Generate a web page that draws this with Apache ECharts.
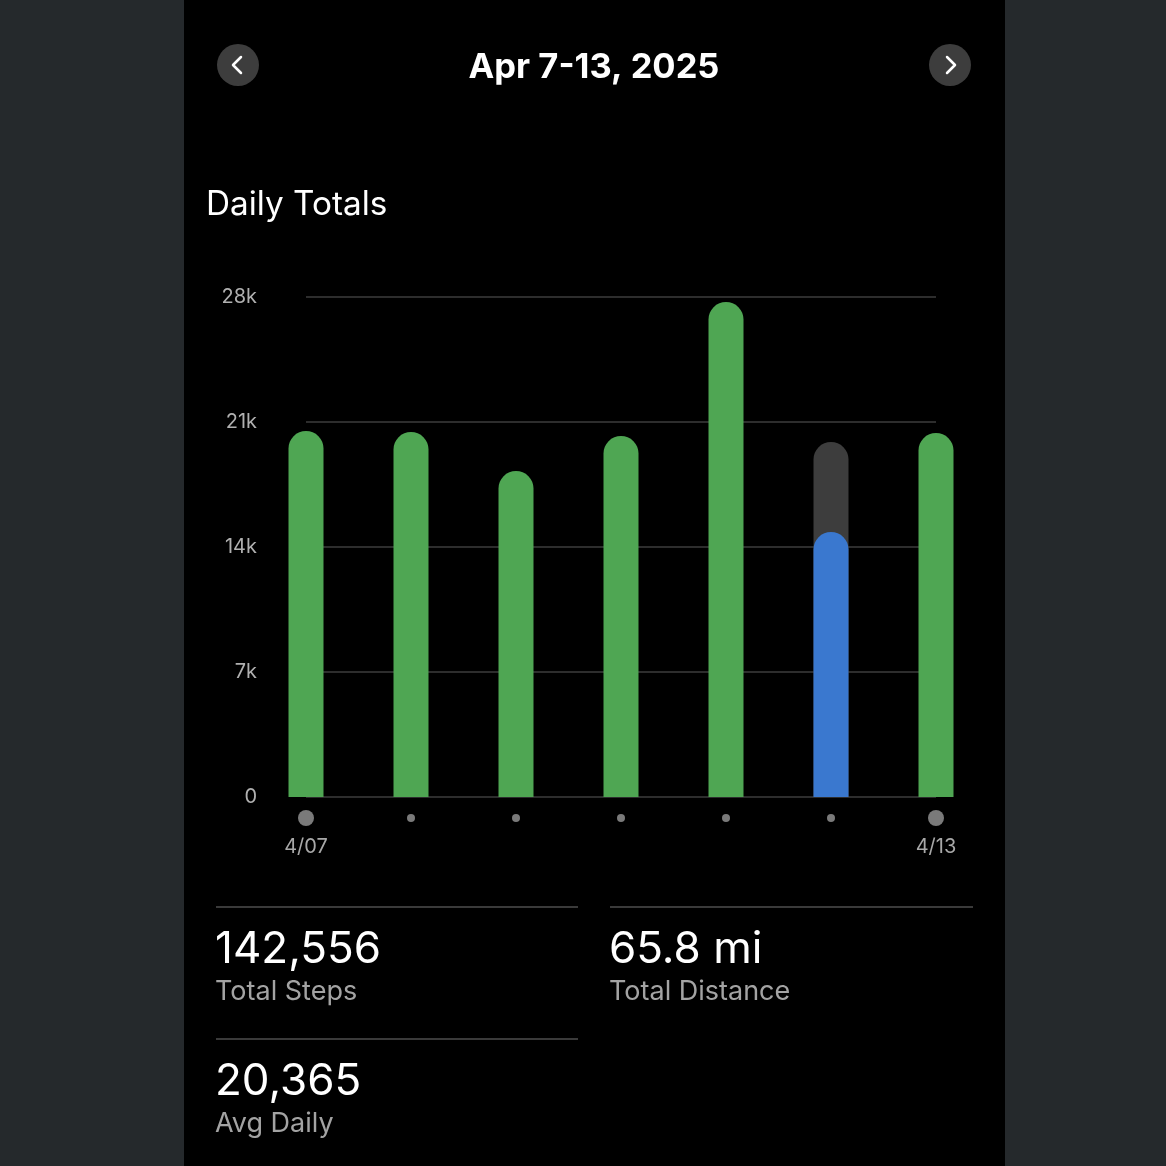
<!DOCTYPE html>
<html>
<head>
<meta charset="utf-8">
<script src="https://cdn.jsdelivr.net/npm/echarts@6/dist/echarts.min.js"></script>
<style>
html,body{margin:0;padding:0;width:1166px;height:1166px;background:#25292c;overflow:hidden;}
#panel{position:absolute;left:184px;top:0;width:821px;height:1166px;background:#000;}
#chart{position:absolute;left:0;top:0;width:1166px;height:1166px;}
</style>
</head>
<body>
<div id="panel"></div>
<div id="chart"></div>
<script>
// ---- data ----
const days = ['4/07', '4/08', '4/09', '4/10', '4/11', '4/12', '4/13'];
const steps = [20496, 20440, 18256, 20216, 27720, 14840, 20384];
const goalBackdrop = [null, null, null, null, null, 19880, null];
const inProgressIndex = 5;
const yTicks = [0, 7000, 14000, 21000, 28000];
const headerTitle = 'Apr 7-13, 2025';
const sectionTitle = 'Daily Totals';
const stats = [
  { value: '142,556', label: 'Total Steps' },
  { value: '65.8 mi', label: 'Total Distance' },
  { value: '20,365', label: 'Avg Daily' }
];

const FONT = 'Inter, "Noto Sans", sans-serif';
const GREEN = '#4fa653';
const BLUE = '#3a78cf';
const GRAY = '#3d3d3d';

const chart = echarts.init(document.getElementById('chart'), null, { renderer: 'canvas' });

function textEl(x, y, text, size, color, weight, align) {
  return {
    type: 'text', x: x, y: y, silent: true,
    style: { text: text, fill: color, font: (weight || 'normal') + ' ' + size + 'px ' + FONT,
      textAlign: align || 'left', textVerticalAlign: 'middle' }
  };
}

function button(cx, cy, dir) {
  const pts = dir < 0 ? [[cx + 3, cy - 8], [cx - 5, cy], [cx + 3, cy + 8]]
                      : [[cx - 3, cy - 8], [cx + 5, cy], [cx - 3, cy + 8]];
  return [
    { type: 'circle', shape: { cx: cx, cy: cy, r: 21 }, style: { fill: '#3d3d3d' }, silent: true },
    { type: 'polyline', shape: { points: pts }, style: { stroke: '#ffffff', lineWidth: 2.5, fill: null, lineCap: 'round', lineJoin: 'round' }, silent: true }
  ];
}

const graphics = [].concat(
  button(238, 65, -1),
  button(950, 65, 1),
  [textEl(594, 68, headerTitle, 34.5, '#ffffff', 'bold', 'center'),
   textEl(206, 205, sectionTitle, 33.3, '#ffffff', 'normal', 'left'),
   { type: 'line', shape: { x1: 216, y1: 907, x2: 578, y2: 907 }, style: { stroke: '#3a3a3a', lineWidth: 2 }, silent: true },
   { type: 'line', shape: { x1: 610, y1: 907, x2: 973, y2: 907 }, style: { stroke: '#3a3a3a', lineWidth: 2 }, silent: true },
   { type: 'line', shape: { x1: 216, y1: 1039, x2: 578, y2: 1039 }, style: { stroke: '#3a3a3a', lineWidth: 2 }, silent: true },
   textEl(215, 950, stats[0].value, 44, '#ffffff'),
   textEl(215, 992, stats[0].label, 27, '#a3a3a3'),
   textEl(609, 950, stats[1].value, 44, '#ffffff'),
   textEl(609, 992, stats[1].label, 27, '#a3a3a3'),
   textEl(215, 1082, stats[2].value, 44, '#ffffff'),
   textEl(215, 1124, stats[2].label, 27, '#a3a3a3')]
);

const option = {
  backgroundColor: 'transparent',
  animation: false,
  grid: { left: 306, right: 230, top: 297, bottom: 369, containLabel: false },
  xAxis: {
    type: 'category',
    data: days,
    boundaryGap: false,
    axisLine: { show: false },
    axisTick: { show: false },
    axisLabel: {
      interval: 0,
      margin: 13,
      formatter: function (v, i) {
        if (i === 0 || i === days.length - 1) return '{big| }\n{d|' + v + '}';
        return '{small| }';
      },
      rich: {
        big: { width: 16, height: 16, lineHeight: 16, borderRadius: 8, backgroundColor: '#7a7a7a' },
        small: { width: 8, height: 8, lineHeight: 16, borderRadius: 4, backgroundColor: '#7a7a7a' },
        d: { fontSize: 20, fontFamily: FONT, color: '#a8a8a8', lineHeight: 42 }
      }
    }
  },
  yAxis: {
    type: 'value',
    min: yTicks[0], max: yTicks[yTicks.length - 1], interval: 7000,
    axisLine: { show: false },
    axisTick: { show: false },
    splitLine: { show: true, lineStyle: { color: '#3c3c3c', width: 1.5 } },
    axisLabel: {
      margin: 49,
      padding: [4, 0, 0, 0],
      fontSize: 20, fontFamily: FONT, color: '#b0b0b0',
      formatter: function (v) { return v === 0 ? '0' : (v / 1000) + 'k'; }
    }
  },
  series: [
    {
      name: 'Goal', type: 'bar', data: goalBackdrop, barWidth: 35, barGap: '-100%',
      itemStyle: { color: GRAY, borderRadius: [17.5, 17.5, 0, 0] }, z: 2
    },
    {
      name: 'Steps', type: 'bar', barWidth: 35, barGap: '-100%', z: 3,
      data: steps.map(function (v, i) {
        return { value: v, itemStyle: { color: i === inProgressIndex ? BLUE : GREEN } };
      }),
      itemStyle: { borderRadius: [17.5, 17.5, 0, 0] }
    }
  ],
  graphic: graphics
};
chart.setOption(option);
</script>
</body>
</html>
